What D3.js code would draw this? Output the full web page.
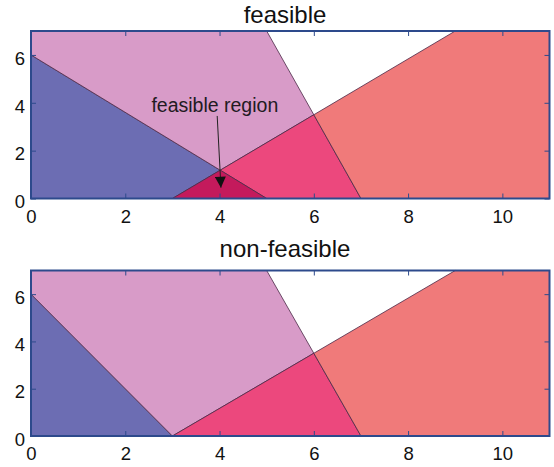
<!DOCTYPE html>
<html>
<head>
<meta charset="utf-8">
<script src="https://cdn.jsdelivr.net/npm/d3@7"></script>
<style>
  html, body { margin: 0; padding: 0; background: #ffffff; }
  svg { display: block; }
  text { font-family: "Liberation Sans", Arial, Helvetica, sans-serif; }
</style>
</head>
<body>
<script>
// ---------- data ----------
const xDomain = [0, 11];
const yDomain = [0, 7];
const xTicks = [0, 2, 4, 6, 8, 10];
const yTicks = [0, 2, 4, 6];
const titles = ["feasible", "non-feasible"];

// region polygons (data units) for the feasible case
const feasibleBlue    = [[0,0],[0,6],[4.014,1.183],[3,0]];
const feasiblePink    = [[0,6],[0,7],[5,7],[6,3.5],[4.014,1.183]];
const feasibleHot     = [[4.014,1.183],[6,3.5],[7,0],[5,0]];
const feasibleDark    = [[3,0],[4.014,1.183],[5,0]];
const feasibleSalmon  = [[7,0],[6,3.5],[9,7],[11,7],[11,0]];

// region polygons for the non-feasible case
const nonfeasBlue     = [[0,0],[0,6],[3,0]];
const nonfeasPink     = [[0,6],[0,7],[5,7],[6,3.5],[3,0]];
const nonfeasHot      = [[3,0],[6,3.5],[7,0]];
const nonfeasSalmon   = [[7,0],[6,3.5],[9,7],[11,7],[11,0]];

// annotation
const annotationText = "feasible region";
const annotationTextPos = [3.9, 3.63];
const annotationArrowFrom = [3.95, 3.45];
const annotationArrowTo = [4.03, 0.45];

// ---------- styles ----------
const colors = {
  blue: "#6c6db3",
  pink: "#d89bc8",
  hot: "#ec487d",
  dark: "#c41a5c",
  salmon: "#f07a7a"
};
const axisColor = "#2d4a8c";
const edgeColor = "#4a2846";

const W = 554, H = 467;
const svg = d3.select("body").append("svg").attr("width", W).attr("height", H);

const panels = [
  { title: titles[0], top: 31, bottom: 198.5, titleY: 22.5,
    regions: [[feasibleBlue, colors.blue],[feasiblePink, colors.pink],[feasibleHot, colors.hot],
              [feasibleDark, colors.dark],[feasibleSalmon, colors.salmon]], annotate: true },
  { title: titles[1], top: 270.5, bottom: 436, titleY: 257,
    regions: [[nonfeasBlue, colors.blue],[nonfeasPink, colors.pink],[nonfeasHot, colors.hot],
              [nonfeasSalmon, colors.salmon]], annotate: false }
];

const left = 31, right = 549.5;

svg.append("defs").append("marker")
  .attr("id", "arrowhead")
  .attr("viewBox", "0 0 10 10")
  .attr("refX", 10).attr("refY", 5)
  .attr("markerWidth", 15).attr("markerHeight", 11)
  .attr("markerUnits", "userSpaceOnUse")
  .attr("orient", "auto")
  .append("path").attr("d", "M0,0 L10,5 L0,10 Z").attr("fill", "#111");

panels.forEach(p => {
  const x = d3.scaleLinear().domain(xDomain).range([left, right]);
  const y = d3.scaleLinear().domain(yDomain).range([p.bottom, p.top]);
  const g = svg.append("g");
  const line = d3.line().x(d => x(d[0])).y(d => y(d[1]));

  g.selectAll("path.region").data(p.regions).join("path")
    .attr("class", "region")
    .attr("d", d => line(d[0]) + "Z")
    .attr("fill", d => d[1])
    .attr("stroke", edgeColor)
    .attr("stroke-width", 0.8)
    .attr("stroke-linejoin", "round");

  if (p.annotate) {
    g.append("line")
      .attr("x1", x(annotationArrowFrom[0])).attr("y1", y(annotationArrowFrom[1]))
      .attr("x2", x(annotationArrowTo[0])).attr("y2", y(annotationArrowTo[1]))
      .attr("stroke", "#222").attr("stroke-width", 1)
      .attr("marker-end", "url(#arrowhead)");
    g.append("text")
      .attr("x", x(annotationTextPos[0])).attr("y", y(annotationTextPos[1]))
      .attr("text-anchor", "middle")
      .attr("font-size", 19.5)
      .attr("fill", "#221a22")
      .text(annotationText);
  }

  // axes with inward ticks on all sides
  const ax = g.append("g").attr("transform", `translate(0,${p.bottom})`)
    .call(d3.axisBottom(x).tickValues(xTicks).tickSize(-5).tickPadding(11).tickFormat(d3.format("d")));
  const axT = g.append("g").attr("transform", `translate(0,${p.top})`)
    .call(d3.axisTop(x).tickValues(xTicks).tickSize(-5).tickFormat(""));
  const ay = g.append("g").attr("transform", `translate(${left},0)`)
    .call(d3.axisLeft(y).tickValues(yTicks).tickSize(-5).tickPadding(6).tickFormat(d3.format("d")));
  const ayR = g.append("g").attr("transform", `translate(${right},0)`)
    .call(d3.axisRight(y).tickValues(yTicks).tickSize(-5).tickFormat(""));

  [ax, axT, ay, ayR].forEach(a => {
    a.select(".domain").remove();
    a.selectAll(".tick line").attr("stroke", axisColor).attr("stroke-width", 1);
    a.selectAll("text").attr("font-size", 18.5).attr("fill", "#111")
      .style("font-family", "'Liberation Sans', Arial, sans-serif");
  });
  ay.selectAll("text").attr("dy", "0.5em");

  g.append("rect")
    .attr("x", left).attr("y", p.top)
    .attr("width", right - left).attr("height", p.bottom - p.top)
    .attr("fill", "none").attr("stroke", axisColor).attr("stroke-width", 2);

  g.append("text")
    .attr("x", 285).attr("y", p.titleY)
    .attr("text-anchor", "middle")
    .attr("font-size", 24)
    .attr("fill", "#111")
    .text(p.title);
});
</script>
</body>
</html>
